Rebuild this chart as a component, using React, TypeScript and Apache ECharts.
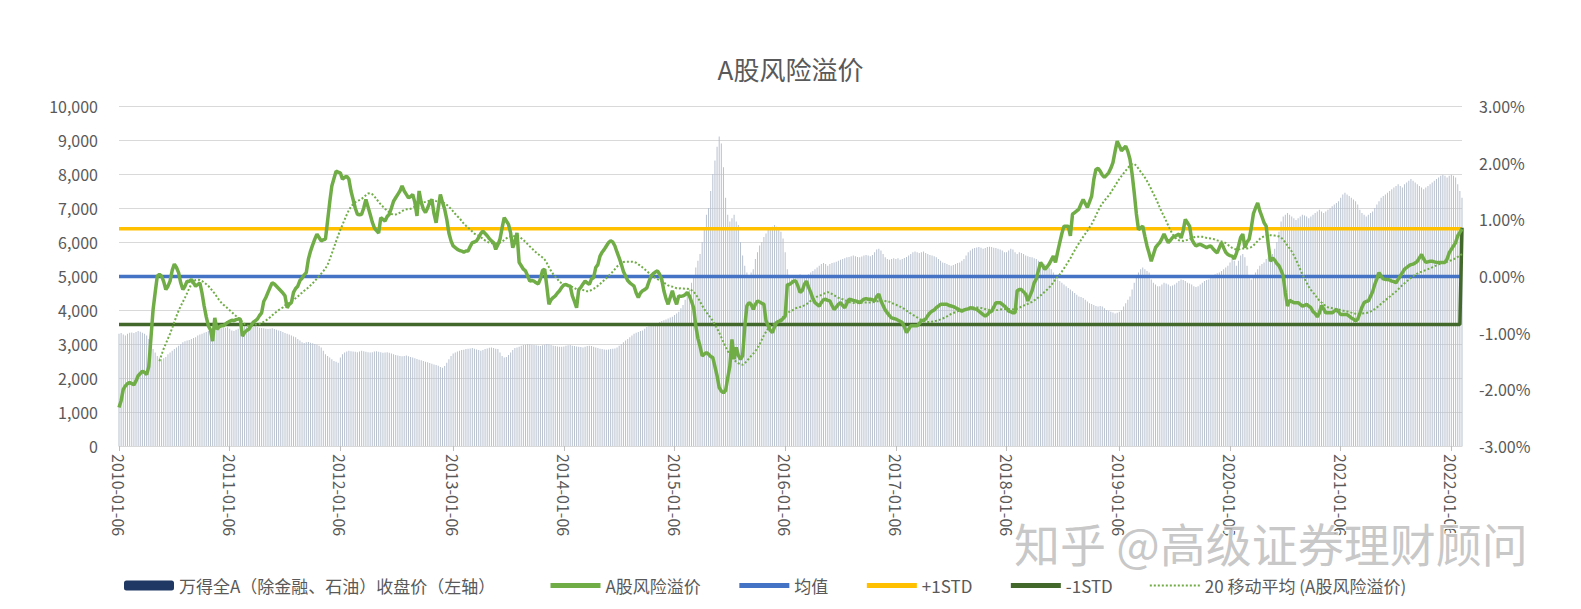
import React, { useEffect, useRef } from "react";
import * as echarts from "echarts";

const FONT = "'Noto Sans CJK SC', 'Noto Sans', sans-serif";

// x-axis tick labels (yearly)
const tickLabels = [
  "2010-01-06", "2011-01-06", "2012-01-06", "2013-01-06", "2014-01-06", "2015-01-06", "2016-01-06",
  "2017-01-06", "2018-01-06", "2019-01-06", "2020-01-06", "2021-01-06", "2022-01-06",
];

// 万得全A（除金融、石油）收盘价 weekly, by year
const idx2010 = [3300, 3320, 3280, 3250, 3300, 3330, 3340, 3320, 3350, 3380, 3360, 3330, 3300, 3250, 3150, 3000, 2850, 2750, 2650, 2600, 2550, 2580, 2620, 2700, 2750, 2800, 2850, 2900, 2950, 3000, 3050, 3080, 3100, 3120, 3150, 3180, 3200, 3250, 3280, 3300, 3330, 3350, 3380, 3400, 3420, 3450, 3430, 3440, 3460, 3470, 3480, 3490];
const idx2011 = [3450, 3400, 3380, 3420, 3450, 3480, 3500, 3520, 3510, 3500, 3490, 3500, 3520, 3500, 3480, 3470, 3460, 3450, 3440, 3450, 3460, 3440, 3420, 3400, 3380, 3350, 3320, 3300, 3280, 3250, 3220, 3200, 3150, 3100, 3050, 3030, 3050, 3060, 3040, 3020, 3000, 2980, 2950, 2900, 2800, 2700, 2650, 2600, 2550, 2500, 2480, 2450];
const idx2012 = [2600, 2700, 2750, 2780, 2800, 2790, 2780, 2770, 2760, 2780, 2800, 2790, 2770, 2760, 2750, 2760, 2780, 2790, 2770, 2760, 2740, 2750, 2760, 2740, 2720, 2700, 2680, 2660, 2650, 2640, 2650, 2660, 2640, 2620, 2600, 2580, 2560, 2540, 2520, 2500, 2480, 2460, 2440, 2420, 2400, 2380, 2360, 2320, 2300, 2350, 2450, 2550];
const idx2013 = [2650, 2720, 2750, 2780, 2800, 2820, 2830, 2850, 2860, 2870, 2880, 2860, 2840, 2820, 2800, 2820, 2850, 2870, 2890, 2900, 2880, 2860, 2850, 2750, 2650, 2600, 2620, 2680, 2750, 2820, 2880, 2900, 2920, 2950, 2970, 2980, 3000, 2990, 2980, 2970, 2960, 2950, 2940, 2960, 2980, 3000, 2990, 2970, 2950, 2940, 2930, 2920];
const idx2014 = [2920, 2930, 2950, 2960, 2970, 2950, 2940, 2930, 2920, 2910, 2900, 2920, 2940, 2950, 2940, 2920, 2900, 2880, 2860, 2850, 2840, 2830, 2840, 2850, 2860, 2870, 2900, 2950, 3000, 3050, 3100, 3150, 3200, 3250, 3300, 3330, 3350, 3380, 3400, 3450, 3500, 3520, 3550, 3580, 3600, 3620, 3650, 3680, 3700, 3720, 3750, 3780, 3800];
const idx2015 = [3850, 3900, 3950, 4050, 4150, 4300, 4450, 4600, 4800, 5000, 5250, 5450, 5650, 6000, 6400, 6800, 7000, 7500, 8000, 8400, 8800, 9100, 8900, 8200, 7300, 6800, 6600, 6700, 6800, 6600, 6500, 6000, 5600, 5300, 5100, 5000, 5100, 5200, 5500, 5700, 5900, 6000, 6150, 6250, 6350, 6400, 6450, 6500, 6450, 6400, 6300, 6100];
const idx2016 = [5700, 5200, 4950, 4900, 4950, 4980, 5000, 5050, 5000, 4950, 5000, 5050, 5100, 5150, 5200, 5250, 5300, 5350, 5380, 5350, 5300, 5350, 5380, 5400, 5420, 5450, 5480, 5500, 5520, 5550, 5560, 5580, 5600, 5580, 5560, 5550, 5570, 5600, 5620, 5600, 5580, 5620, 5700, 5780, 5800, 5750, 5650, 5550, 5500, 5480, 5500, 5520];
const idx2017 = [5500, 5520, 5480, 5500, 5530, 5560, 5600, 5650, 5700, 5720, 5700, 5680, 5700, 5720, 5680, 5650, 5620, 5600, 5580, 5550, 5500, 5450, 5400, 5380, 5350, 5320, 5300, 5320, 5350, 5380, 5400, 5450, 5500, 5600, 5700, 5750, 5800, 5820, 5840, 5850, 5830, 5800, 5820, 5850, 5860, 5850, 5830, 5820, 5800, 5780, 5750, 5700];
const idx2018 = [5700, 5750, 5800, 5780, 5700, 5650, 5700, 5680, 5650, 5600, 5580, 5560, 5550, 5520, 5500, 5450, 5400, 5380, 5350, 5300, 5250, 5200, 5100, 5000, 4900, 4850, 4800, 4750, 4700, 4650, 4600, 4550, 4500, 4450, 4400, 4380, 4350, 4300, 4250, 4200, 4180, 4150, 4120, 4100, 4120, 4100, 4050, 4000, 3980, 3950, 3930, 3900];
const idx2019 = [3920, 3950, 4000, 4100, 4200, 4300, 4400, 4600, 4800, 4950, 5100, 5200, 5250, 5200, 5150, 5100, 4900, 4800, 4750, 4700, 4700, 4750, 4800, 4780, 4750, 4700, 4720, 4750, 4800, 4850, 4900, 4880, 4850, 4800, 4780, 4750, 4700, 4680, 4700, 4750, 4800, 4850, 4880, 4900, 4950, 5000, 5050, 5080, 5100, 5150, 5200, 5250, 5300];
const idx2020 = [5400, 5500, 5450, 5300, 5450, 5600, 5650, 5550, 5300, 5000, 4900, 5000, 5100, 5200, 5300, 5350, 5400, 5500, 5550, 5600, 5650, 5800, 6000, 6300, 6600, 6750, 6800, 6850, 6800, 6750, 6700, 6650, 6700, 6750, 6800, 6780, 6750, 6700, 6750, 6800, 6850, 6900, 6950, 6900, 6850, 6900, 6950, 7000, 7050, 7100, 7150, 7200];
const idx2021 = [7300, 7400, 7450, 7400, 7350, 7300, 7250, 7200, 7100, 6950, 6850, 6800, 6750, 6800, 6850, 6900, 7000, 7100, 7200, 7300, 7350, 7400, 7450, 7500, 7550, 7600, 7650, 7700, 7650, 7600, 7700, 7750, 7800, 7850, 7800, 7750, 7700, 7650, 7600, 7550, 7600, 7650, 7700, 7750, 7800, 7850, 7900, 7950, 7980, 7950, 7900, 7950];
const idx2022 = [7980, 7950, 7900, 7700, 7500, 7300];

// A股风险溢价 (%) weekly, by year
const rp2010 = [-2.32, -2.2, -2.0, -1.94, -1.9, -1.88, -1.9, -1.92, -1.85, -1.76, -1.72, -1.68, -1.7, -1.74, -1.6, -1.1, -0.6, -0.29, 0.0, 0.03, 0.0, -0.1, -0.24, -0.18, -0.09, 0.1, 0.21, 0.15, 0.06, -0.12, -0.24, -0.18, -0.09, -0.1, -0.06, -0.12, -0.18, -0.15, -0.12, -0.3, -0.53, -0.72, -0.88, -0.95, -1.15, -0.74, -0.94, -0.9, -0.88, -0.88, -0.85, -0.82];
const rp2011 = [-0.8, -0.78, -0.79, -0.77, -0.76, -0.76, -1.06, -1.0, -0.96, -0.94, -0.88, -0.82, -0.79, -0.76, -0.7, -0.65, -0.45, -0.38, -0.29, -0.2, -0.12, -0.14, -0.18, -0.22, -0.26, -0.3, -0.35, -0.56, -0.5, -0.47, -0.29, -0.22, -0.18, -0.08, -0.04, 0.02, 0.06, 0.3, 0.44, 0.55, 0.65, 0.74, 0.68, 0.62, 0.64, 0.65, 0.97, 1.3, 1.59, 1.72, 1.85, 1.83];
const rp2012 = [1.82, 1.71, 1.74, 1.76, 1.71, 1.5, 1.35, 1.2, 1.09, 1.08, 1.09, 1.2, 1.35, 1.22, 1.09, 0.95, 0.85, 0.8, 0.76, 1.03, 1.0, 0.97, 1.05, 1.09, 1.2, 1.32, 1.38, 1.44, 1.5, 1.59, 1.5, 1.44, 1.38, 1.4, 1.44, 1.3, 1.06, 1.5, 1.3, 1.18, 1.12, 1.2, 1.3, 1.35, 1.1, 0.94, 1.2, 1.44, 1.3, 1.18, 1.0, 0.76];
const rp2013 = [0.62, 0.53, 0.5, 0.47, 0.45, 0.44, 0.42, 0.44, 0.44, 0.52, 0.59, 0.6, 0.62, 0.68, 0.75, 0.79, 0.75, 0.71, 0.66, 0.62, 0.59, 0.47, 0.55, 0.65, 0.85, 1.03, 0.97, 0.91, 0.76, 0.5, 0.6, 0.76, 0.24, 0.18, 0.12, 0.09, 0.0, -0.09, -0.08, -0.09, -0.12, -0.14, -0.05, 0.1, 0.12, -0.18, -0.5, -0.42, -0.38, -0.35, -0.3, -0.26];
const rp2014 = [-0.2, -0.16, -0.15, -0.17, -0.18, -0.35, -0.45, -0.56, -0.24, -0.2, -0.14, -0.09, -0.12, -0.15, -0.05, -0.03, 0.15, 0.2, 0.35, 0.42, 0.47, 0.53, 0.59, 0.62, 0.6, 0.53, 0.42, 0.32, 0.21, 0.08, 0.0, -0.08, -0.12, -0.15, -0.18, -0.3, -0.38, -0.3, -0.26, -0.24, -0.21, -0.1, 0.0, 0.04, 0.07, 0.09, 0.03, -0.06, -0.26, -0.4, -0.5, -0.38, -0.26];
const rp2015 = [-0.4, -0.5, -0.35, -0.36, -0.35, -0.33, -0.29, -0.35, -0.45, -0.56, -0.88, -1.1, -1.24, -1.41, -1.38, -1.35, -1.38, -1.42, -1.44, -1.6, -1.76, -1.97, -2.03, -2.06, -2.02, -1.8, -1.59, -1.12, -1.47, -1.26, -1.4, -1.47, -1.41, -0.9, -0.53, -0.47, -0.5, -0.59, -0.5, -0.44, -0.46, -0.48, -0.5, -0.79, -0.88, -0.96, -1.0, -0.9, -0.82, -0.8, -0.79, -0.75];
const rp2016 = [-0.71, -0.15, -0.15, -0.12, -0.09, -0.09, -0.18, -0.29, -0.26, -0.15, -0.09, -0.2, -0.29, -0.4, -0.47, -0.5, -0.53, -0.47, -0.42, -0.41, -0.43, -0.44, -0.52, -0.59, -0.55, -0.5, -0.47, -0.52, -0.56, -0.48, -0.41, -0.42, -0.43, -0.44, -0.45, -0.47, -0.44, -0.41, -0.4, -0.41, -0.41, -0.42, -0.44, -0.36, -0.32, -0.44, -0.52, -0.6, -0.65, -0.7, -0.74, -0.75];
const rp2017 = [-0.76, -0.78, -0.8, -0.82, -0.9, -1.0, -0.94, -0.88, -0.88, -0.88, -0.88, -0.84, -0.79, -0.78, -0.76, -0.7, -0.65, -0.62, -0.6, -0.56, -0.53, -0.5, -0.5, -0.5, -0.5, -0.52, -0.53, -0.54, -0.56, -0.58, -0.6, -0.62, -0.6, -0.59, -0.58, -0.56, -0.57, -0.58, -0.59, -0.62, -0.65, -0.68, -0.71, -0.68, -0.64, -0.62, -0.55, -0.47, -0.47, -0.47, -0.5, -0.53];
const rp2018 = [-0.57, -0.62, -0.63, -0.65, -0.65, -0.26, -0.24, -0.24, -0.28, -0.32, -0.44, -0.35, -0.26, -0.12, -0.05, 0.1, 0.24, 0.18, 0.12, 0.16, 0.21, 0.28, 0.35, 0.24, 0.42, 0.59, 0.75, 0.88, 0.88, 0.88, 0.71, 1.09, 1.12, 1.15, 1.18, 1.27, 1.35, 1.28, 1.21, 1.31, 1.41, 1.7, 1.88, 1.9, 1.85, 1.78, 1.74, 1.78, 1.82, 1.9, 2.0, 2.2];
const rp2019 = [2.38, 2.3, 2.21, 2.25, 2.29, 2.2, 2.06, 1.8, 1.47, 1.1, 0.82, 0.85, 0.88, 0.7, 0.53, 0.4, 0.26, 0.38, 0.5, 0.55, 0.59, 0.66, 0.74, 0.66, 0.59, 0.63, 0.68, 0.7, 0.72, 0.74, 0.67, 0.8, 1.0, 0.94, 0.88, 0.65, 0.58, 0.53, 0.55, 0.56, 0.54, 0.52, 0.5, 0.52, 0.53, 0.48, 0.44, 0.41, 0.5, 0.59, 0.5, 0.42, 0.38];
const rp2020 = [0.36, 0.35, 0.3, 0.4, 0.53, 0.68, 0.74, 0.5, 0.6, 0.65, 0.85, 1.1, 1.2, 1.29, 1.15, 1.05, 0.94, 0.88, 0.55, 0.26, 0.32, 0.28, 0.22, 0.18, 0.1, 0.0, -0.3, -0.53, -0.43, -0.45, -0.47, -0.47, -0.47, -0.5, -0.53, -0.52, -0.5, -0.53, -0.56, -0.63, -0.66, -0.72, -0.65, -0.52, -0.58, -0.65, -0.65, -0.65, -0.65, -0.62, -0.59, -0.63];
const rp2021 = [-0.68, -0.68, -0.68, -0.68, -0.71, -0.74, -0.76, -0.79, -0.76, -0.66, -0.55, -0.47, -0.45, -0.44, -0.36, -0.28, -0.15, -0.05, 0.06, 0.0, -0.05, -0.06, -0.06, -0.07, -0.09, -0.1, -0.12, -0.06, 0.0, 0.06, 0.12, 0.15, 0.18, 0.2, 0.21, 0.23, 0.26, 0.32, 0.38, 0.3, 0.24, 0.25, 0.26, 0.26, 0.25, 0.24, 0.24, 0.24, 0.24, 0.24, 0.3, 0.41];
const rp2022 = [0.47, 0.53, 0.59, 0.71, 0.77, 0.83];

// Statistics lines (%)
const meanValue = -0.01;
const plusStdValue = 0.835;
const minusStdValue = -0.855;
const minusStdLastValue = 0.85;
const maPeriod = 20;

const indexClose = [
  ...idx2010, ...idx2011, ...idx2012, ...idx2013, ...idx2014, ...idx2015, ...idx2016,
  ...idx2017, ...idx2018, ...idx2019, ...idx2020, ...idx2021, ...idx2022,
];
const riskPremium = [
  ...rp2010, ...rp2011, ...rp2012, ...rp2013, ...rp2014, ...rp2015, ...rp2016,
  ...rp2017, ...rp2018, ...rp2019, ...rp2020, ...rp2021, ...rp2022,
];

const START = Date.UTC(2010, 0, 6);
const WEEK = 7 * 86400000;
const pad = (n: number) => (n < 10 ? "0" + n : "" + n);
const categories = riskPremium.map((_, i) => {
  const d = new Date(START + i * WEEK);
  return `${d.getUTCFullYear()}-${pad(d.getUTCMonth() + 1)}-${pad(d.getUTCDate())}`;
});
const labelMap = new Map<number, string>();
tickLabels.forEach((s) => {
  const [y, m, d] = s.split("-").map(Number);
  labelMap.set(Math.round((Date.UTC(y, m - 1, d) - START) / WEEK), s);
});

const meanLine = riskPremium.map(() => meanValue);
const plusStdLine = riskPremium.map(() => plusStdValue);
const minusStdLine = riskPremium.map((_, i) => (i === riskPremium.length - 1 ? minusStdLastValue : minusStdValue));
const movingAvg = riskPremium.map((_, i) => {
  if (i < maPeriod - 1) return null;
  let s = 0;
  for (let k = i - maPeriod + 1; k <= i; k++) s += riskPremium[k];
  return +(s / maPeriod).toFixed(4);
});

const N_BAR = "万得全A（除金融、石油）收盘价（左轴）";
const N_RP = "A股风险溢价";
const N_MEAN = "均值";
const N_PLUS = "+1STD";
const N_MINUS = "-1STD";
const N_MA = "20 移动平均 (A股风险溢价)";

export default function App() {
  const ref = useRef<HTMLDivElement>(null);
  useEffect(() => {
    if (!ref.current) return;
    const chart = echarts.init(ref.current, undefined, { renderer: "svg" });
    const lineSeries = (name: string, data: any[], color: string, width: number, z: number, type: any = "solid") => ({
      name,
      type: "line",
      yAxisIndex: 1,
      data,
      symbol: "none",
      z,
      lineStyle: { color, width, type },
      itemStyle: { color },
    });
    const lineLegend = (name: string, width: number) => ({
      name,
      itemStyle: { opacity: 0 },
      lineStyle: { width },
    });
    const legendBase = {
      top: 572,
      itemWidth: 50,
      itemHeight: 10,
      itemGap: 36,
      textStyle: { fontSize: 17, color: "#595959", fontFamily: FONT },
    };
    chart.setOption({
      animation: false,
      backgroundColor: "#ffffff",
      title: {
        text: "A股风险溢价",
        left: "center",
        top: 50,
        textStyle: { fontSize: 26, fontWeight: "normal", color: "#595959", fontFamily: FONT },
      },
      grid: { left: 119, right: 119, top: 106, bottom: 163 },
      legend: [
        {
          ...legendBase,
          left: 119,
          data: [{ name: N_BAR, itemStyle: { color: "#203864", opacity: 1 } }],
        },
        {
          ...legendBase,
          left: 543,
          data: [
            lineLegend(N_RP, 5), lineLegend(N_MEAN, 5), lineLegend(N_PLUS, 5), lineLegend(N_MINUS, 5), lineLegend(N_MA, 2),
          ],
        },
      ],
      xAxis: {
        type: "category",
        data: categories,
        boundaryGap: false,
        axisLine: { lineStyle: { color: "#d9d9d9" } },
        axisTick: {
          length: 5,
          interval: (i: number) => labelMap.has(i),
          lineStyle: { color: "#bfbfbf" },
        },
        axisLabel: {
          interval: (i: number) => labelMap.has(i),
          formatter: (_v: string, i: number) => labelMap.get(i) ?? "",
          rotate: -90,
          margin: 8,
          fontSize: 16,
          color: "#595959",
          fontFamily: FONT,
        },
        splitLine: { show: false },
      },
      yAxis: [
        {
          type: "value",
          min: 0,
          max: 10000,
          interval: 1000,
          axisLine: { show: false },
          axisTick: { show: false },
          splitLine: { lineStyle: { color: "#d9d9d9", width: 1 } },
          axisLabel: {
            margin: 21,
            fontSize: 16,
            color: "#595959",
            fontFamily: FONT,
            formatter: (v: number) => v.toLocaleString("en-US"),
          },
        },
        {
          type: "value",
          min: -3,
          max: 3,
          interval: 1,
          axisLine: { show: false },
          axisTick: { show: false },
          splitLine: { show: false },
          axisLabel: {
            margin: 17,
            fontSize: 16,
            color: "#595959",
            fontFamily: FONT,
            formatter: (v: number) => v.toFixed(2) + "%",
          },
        },
      ],
      series: [
        {
          name: N_BAR,
          type: "bar",
          yAxisIndex: 0,
          data: indexClose,
          barWidth: 1,
          z: 1,
          itemStyle: { color: "#b8c1cf" },
        },
        lineSeries(N_MEAN, meanLine, "#4472c4", 3.5, 3),
        lineSeries(N_PLUS, plusStdLine, "#ffc000", 3.5, 3),
        lineSeries(N_MINUS, minusStdLine, "#43682b", 3.5, 3),
        lineSeries(N_MA, movingAvg, "#70ad47", 2, 4, "dotted"),
        lineSeries(N_RP, riskPremium, "#70ad47", 3.5, 5),
      ],
      graphic: [
        {
          type: "text",
          left: 1013,
          top: 518,
          z: 100,
          style: {
            text: "知乎 @高级证券理财顾问",
            font: `46px ${FONT}`,
            fill: "rgba(185,185,185,0.8)",
            stroke: "rgba(255,255,255,0.95)",
            lineWidth: 2,
          },
        },
      ],
    });
    return () => chart.dispose();
  }, []);
  return <div ref={ref} style={{ position: "fixed", left: 0, top: 0, width: 1581, height: 609 }} />;
}
